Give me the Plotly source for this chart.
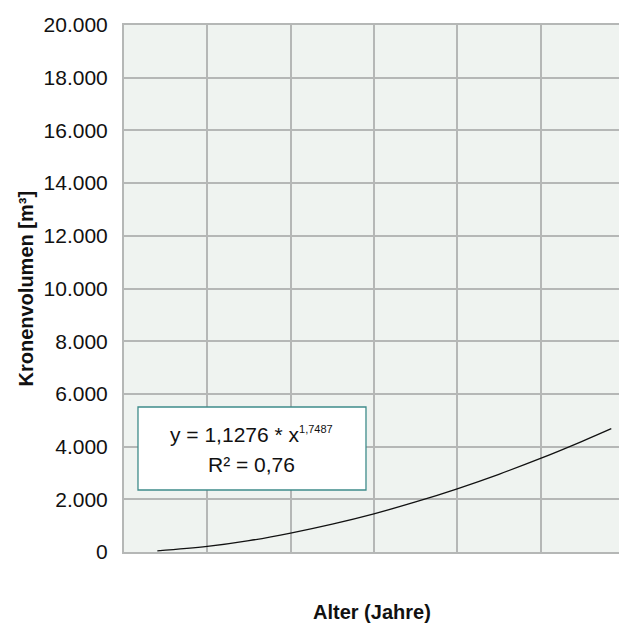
import plotly.graph_objects as go

# Values (trend line of crown volume vs. age)
alter = [8, 20, 30, 40, 50, 60, 70, 80, 90, 100, 110, 117]
kronenvolumen = [43, 210, 430, 720, 1060, 1450, 1900, 2400, 2950, 3550, 4200, 4680]

y_ticks = [0, 2000, 4000, 6000, 8000, 10000, 12000, 14000, 16000, 18000, 20000]
x_grid = [0, 20, 40, 60, 80, 100, 120]

eq_line1 = "y = 1,1276 * x<sup><span style='font-size:11px'>1,7487</span></sup>"
eq_line2 = "R² = 0,76"
x_title = "Alter (Jahre)"
y_title = "Kronenvolumen [m³]"

FONT = "Liberation Sans, Arial, Helvetica, sans-serif"
GRID = "#b5b7b6"

fig = go.Figure()
fig.add_trace(go.Scatter(
    x=alter, y=kronenvolumen, mode="lines",
    line=dict(color="#111111", width=1.3, shape="spline"),
    hoverinfo="skip", showlegend=False,
))

fig.update_layout(
    width=619, height=626,
    margin=dict(l=124, r=0, t=25, b=74),
    paper_bgcolor="white",
    plot_bgcolor="#eff3f0",
    separators=",.",
    font=dict(family=FONT, size=21, color="#111111"),
    showlegend=False,
)

fig.update_xaxes(
    range=[0, 495 / 83.3 * 20],
    tickvals=x_grid,
    showticklabels=False,
    showgrid=True, gridcolor=GRID, gridwidth=2,
    showline=True, linecolor=GRID, linewidth=2, mirror=True,
    zeroline=False, ticks="",
)
fig.update_yaxes(
    range=[0, 20000],
    tickvals=y_ticks,
    ticktext=[f"{v:,}".replace(",", ".") for v in y_ticks],
    showgrid=True, gridcolor=GRID, gridwidth=2,
    showline=True, linecolor=GRID, linewidth=2,
    zeroline=False,
    ticks="outside", ticklen=10, tickcolor="rgba(0,0,0,0)",
    tickfont=dict(family=FONT, size=21, color="#111111"),
)

# Equation box
fig.add_shape(
    type="rect", xref="x", yref="y",
    x0=3.36, x1=58.1, y0=2353, y1=5503,
    line=dict(color="#3f8c8a", width=1.3),
    fillcolor="white", layer="above",
)
fig.add_annotation(
    x=30.7, y=4459, xref="x", yref="y",
    text=eq_line1, showarrow=False,
    font=dict(family=FONT, size=21, color="#111111"),
    xanchor="center", yanchor="middle",
)
fig.add_annotation(
    x=30.7, y=3321, xref="x", yref="y",
    text=eq_line2, showarrow=False,
    font=dict(family=FONT, size=21, color="#111111"),
    xanchor="center", yanchor="middle",
)

# Axis titles
fig.add_annotation(
    x=0.5, y=0, xref="paper", yref="paper",
    yshift=-60, text=f"<b>{x_title}</b>", showarrow=False,
    font=dict(family=FONT, size=20, color="#111111"),
    xanchor="center", yanchor="middle",
)
fig.add_annotation(
    x=0, y=0.5, xref="paper", yref="paper",
    xshift=-99, text=f"<b>{y_title}</b>", showarrow=False,
    textangle=-90,
    font=dict(family=FONT, size=20, color="#111111"),
    xanchor="center", yanchor="middle",
)

fig.write_html("out.html")
